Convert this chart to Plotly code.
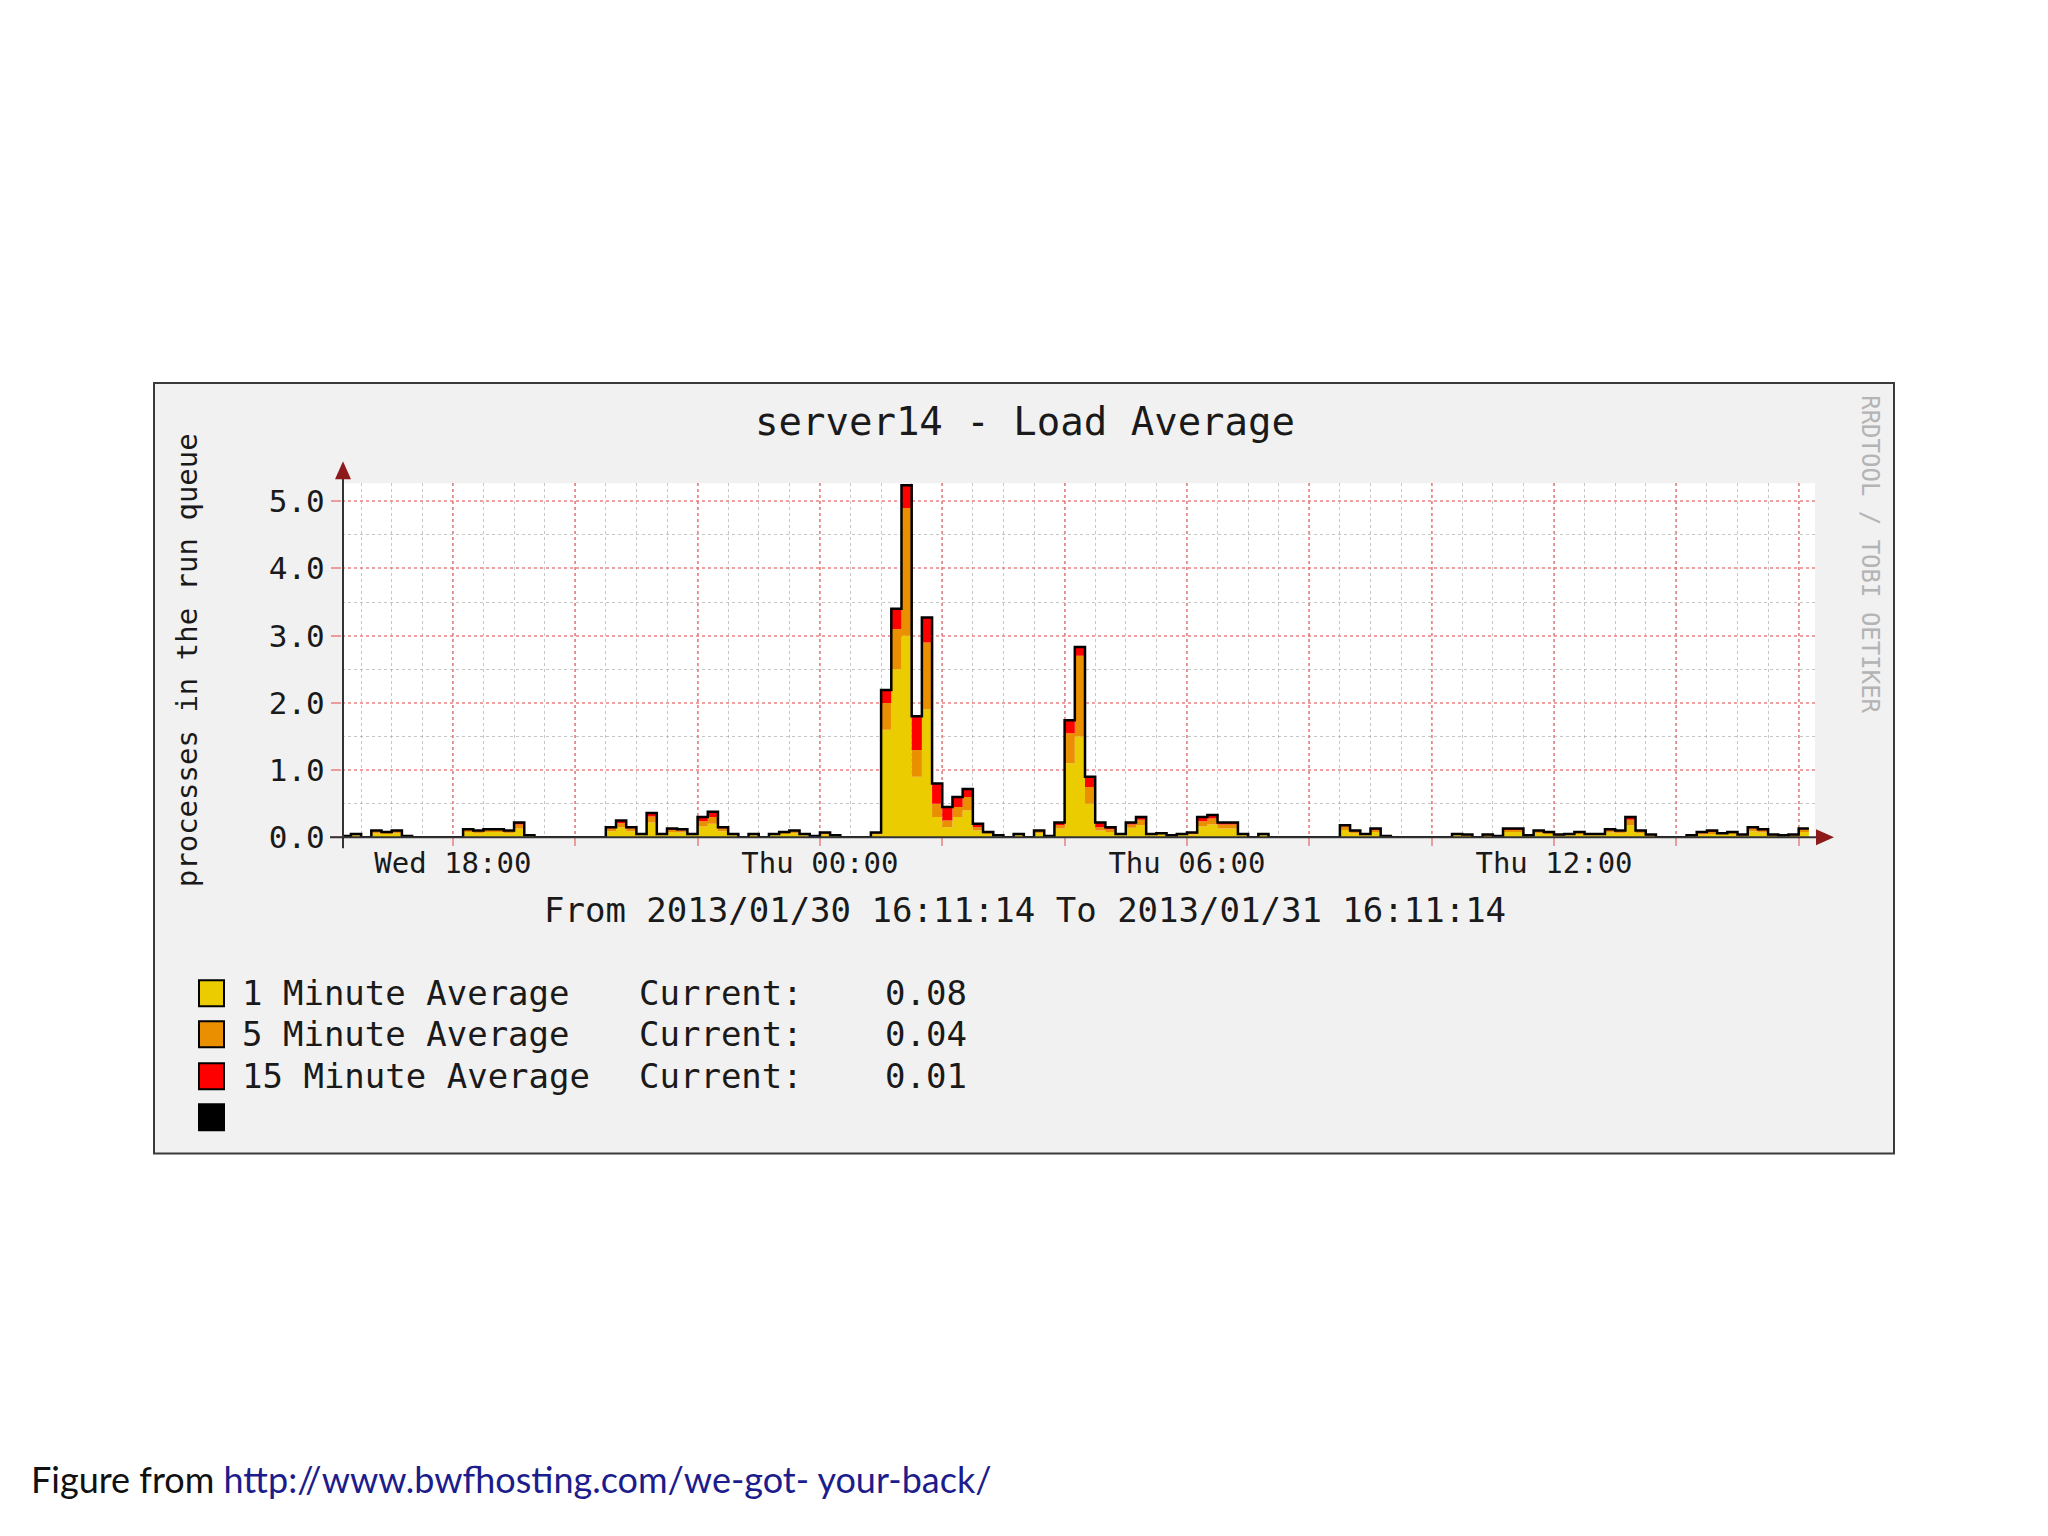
import numpy as np
import pandas as pd
import plotly.graph_objects as go

# ---------------- data (10-minute samples, 16:10 Wed -> 16:10 Thu) ----------------
times = pd.date_range("2013-01-30 16:10", "2013-01-31 16:10", freq="10min")

load_1min = [
    0.01, 0.03, 0, 0.06, 0.05, 0.06, 0.01, 0, 0, 0,
    0, 0, 0.08, 0.06, 0.08, 0.08, 0.06, 0.13, 0.02, 0,
    0, 0, 0, 0, 0, 0, 0.09, 0.15, 0.09, 0.03,
    0.22, 0.03, 0.08, 0.07, 0.03, 0.16, 0.20, 0.09, 0.03, 0,
    0.03, 0, 0.03, 0.05, 0.06, 0.03, 0.01, 0.04, 0.02, 0,
    0, 0, 0.04, 1.60, 2.50, 3.00, 0.90, 1.90, 0.30, 0.15,
    0.30, 0.40, 0.10, 0.05, 0.02, 0, 0.03, 0, 0.06, 0.01,
    0.13, 1.10, 1.50, 0.50, 0.10, 0.08, 0.03, 0.14, 0.18, 0.03,
    0.04, 0.02, 0.03, 0.04, 0.16, 0.19, 0.13, 0.13, 0.03, 0,
    0.03, 0, 0, 0, 0, 0, 0, 0, 0.11, 0.06,
    0.03, 0.08, 0.01, 0, 0, 0, 0, 0, 0, 0.03,
    0.02, 0, 0.02, 0.01, 0.08, 0.08, 0.02, 0.06, 0.05, 0.02,
    0.03, 0.05, 0.03, 0.03, 0.07, 0.06, 0.18, 0.06, 0.02, 0,
    0, 0, 0, 0.04, 0.05, 0.04, 0.05, 0.02, 0.09, 0.07,
    0.02, 0.02, 0.02, 0.08, 0.08,
]
load_5min = [
    0.01, 0.01, 0, 0.03, 0.02, 0.03, 0.01, 0, 0, 0,
    0, 0, 0.03, 0.03, 0.03, 0.03, 0.03, 0.06, 0.01, 0,
    0, 0, 0, 0, 0, 0, 0.04, 0.06, 0.04, 0.01,
    0.09, 0.01, 0.03, 0.03, 0.01, 0.08, 0.10, 0.04, 0.01, 0,
    0.01, 0, 0.01, 0.02, 0.03, 0.01, 0.01, 0.02, 0.01, 0,
    0, 0, 0.02, 0.40, 0.60, 1.90, 0.40, 1.00, 0.20, 0.10,
    0.15, 0.20, 0.05, 0.02, 0.01, 0, 0.01, 0, 0.03, 0.01,
    0.05, 0.45, 1.20, 0.25, 0.05, 0.04, 0.01, 0.05, 0.08, 0.01,
    0.01, 0.01, 0.01, 0.02, 0.08, 0.09, 0.06, 0.06, 0.01, 0,
    0.01, 0, 0, 0, 0, 0, 0, 0, 0.05, 0.03,
    0.01, 0.03, 0.01, 0, 0, 0, 0, 0, 0, 0.01,
    0.01, 0, 0.01, 0.01, 0.03, 0.03, 0.01, 0.03, 0.02, 0.01,
    0.01, 0.02, 0.01, 0.01, 0.03, 0.03, 0.08, 0.03, 0.01, 0,
    0, 0, 0.03, 0.02, 0.03, 0.01, 0.02, 0.01, 0.04, 0.03,
    0.01, 0.01, 0.01, 0.04, 0.04,
]
load_15min = [
    0, 0.01, 0, 0.01, 0.01, 0.01, 0, 0, 0, 0,
    0, 0, 0.01, 0.01, 0.01, 0.01, 0.01, 0.03, 0, 0,
    0, 0, 0, 0, 0, 0, 0.02, 0.04, 0.02, 0.01,
    0.05, 0.01, 0.02, 0.02, 0.01, 0.06, 0.08, 0.02, 0.01, 0,
    0.01, 0, 0.01, 0.01, 0.01, 0.01, 0, 0.01, 0, 0,
    0, 0, 0.01, 0.19, 0.30, 0.34, 0.50, 0.37, 0.30, 0.20,
    0.15, 0.12, 0.05, 0.01, 0, 0, 0.01, 0, 0.01, 0,
    0.04, 0.19, 0.13, 0.15, 0.07, 0.03, 0.01, 0.03, 0.04, 0.01,
    0.01, 0, 0.01, 0.01, 0.06, 0.05, 0.03, 0.03, 0.01, 0,
    0.01, 0, 0, 0, 0, 0, 0, 0, 0.02, 0.01,
    0.01, 0.02, 0, 0, 0, 0, 0, 0, 0, 0.01,
    0.01, 0, 0.01, 0, 0.02, 0.02, 0, 0.01, 0.01, 0.01,
    0.01, 0.01, 0.01, 0.01, 0.02, 0.01, 0.04, 0.01, 0.01, 0,
    0, 0, 0, 0.02, 0.02, 0.01, 0.01, 0.01, 0.02, 0.02,
    0.01, 0, 0.01, 0.01, 0.01,
]

series_names = ["1 Minute Average", "5 Minute Average", "15 Minute Average"]
series_colors = ["#EACC00", "#EA8F00", "#FF0000"]
current_values = ["0.08", "0.04", "0.01"]

title_text = "server14 - Load Average"
y_title = "processes in the run queue"
range_text = "From 2013/01/30 16:11:14 To 2013/01/31 16:11:14"
watermark = "RRDTOOL / TOBI OETIKER"

# ---------------- helpers (page has an 8px body margin) ----------------
W, H = 2032, 1520
OFF = 8
H_EFF = 1501.5   # rendered paper height observed in the screenshot
def px(x):
    return (x - OFF) / W
def py(y):
    return 1 - (y - OFF) / H_EFF

MONO = "DejaVu Sans Mono"
MAJOR = "rgba(230,110,110,0.65)"
MINOR = "rgba(160,160,160,0.6)"

total = np.array(load_1min) + np.array(load_5min) + np.array(load_15min)

fig = go.Figure()
for name, vals, col in zip(series_names, [load_1min, load_5min, load_15min], series_colors):
    fig.add_trace(go.Scatter(
        x=times, y=vals, name=name, stackgroup="load", mode="lines",
        line=dict(width=0, shape="hv", color=col), fillcolor=col,
        showlegend=False, hoverinfo="skip"))
fig.add_trace(go.Scatter(
    x=times, y=total, name="Total", mode="lines",
    line=dict(color="#000000", width=2.5, shape="hv"), showlegend=False))

tick_times = pd.date_range("2013-01-30 18:00", "2013-01-31 16:00", freq="2h")
tick_text = [t.strftime("%a %H:%M") if t.hour % 6 == 0 else "" for t in tick_times]

fig.update_xaxes(
    type="date",
    range=["2013-01-30 16:11:14", "2013-01-31 16:16:00"],
    domain=[px(342), px(1815)],
    tickmode="array", tickvals=tick_times, ticktext=tick_text,
    tickfont=dict(family=MONO, size=29, color="#1a1a1a"),
    ticklabelstandoff=-8,
    showgrid=True, gridcolor=MAJOR, griddash="dot", gridwidth=1.5,
    ticks="outside", ticklen=8, tickcolor=MAJOR, tickwidth=2,
    minor=dict(tick0="2013-01-30 16:30", dtick=1800000, showgrid=True,
               gridcolor=MINOR, griddash="dot", gridwidth=1.2, ticks=""),
    showline=False, zeroline=False, fixedrange=True,
)
fig.update_yaxes(
    range=[0, 5.27],
    domain=[py(837), py(483)],
    tickmode="linear", tick0=0, dtick=1, tickformat=".1f",
    tickfont=dict(family=MONO, size=31, color="#1a1a1a"),
    showgrid=True, gridcolor=MAJOR, griddash="dot", gridwidth=1.5,
    ticks="outside", ticklen=10, tickcolor=MAJOR, tickwidth=2,
    minor=dict(dtick=0.5, showgrid=True, gridcolor=MINOR, griddash="dot",
               gridwidth=1.2, ticks=""),
    showline=False, zeroline=False, fixedrange=True,
)

shapes = [
    # chart canvas
    dict(type="rect", xref="paper", yref="paper", layer="below",
         x0=px(154), x1=px(1894), y0=py(1153), y1=py(383),
         fillcolor="#f2f1f1", line=dict(color="#3a3a3a", width=2)),
    # plot area
    dict(type="rect", xref="paper", yref="paper", layer="below",
         x0=px(343), x1=px(1815), y0=py(837), y1=py(483),
         fillcolor="#ffffff", line=dict(width=0)),
    # axis lines
    dict(type="line", xref="paper", yref="paper", x0=px(343), x1=px(343),
         y0=py(848), y1=py(472), line=dict(color="#333333", width=2)),
    dict(type="line", xref="paper", yref="paper", x0=px(330), x1=px(1822),
         y0=py(837), y1=py(837), line=dict(color="#333333", width=2)),
    # arrow heads
    dict(type="path", xref="paper", yref="paper",
         path=f"M {px(343)} {py(461)} L {px(335)} {py(479)} L {px(351)} {py(479)} Z",
         fillcolor="#8e1b1b", line=dict(width=0)),
    dict(type="path", xref="paper", yref="paper",
         path=f"M {px(1834)} {py(837)} L {px(1816)} {py(829)} L {px(1816)} {py(845)} Z",
         fillcolor="#8e1b1b", line=dict(width=0)),
]

annotations = [
    dict(text=title_text, x=px(1025), y=py(421), xref="paper", yref="paper",
         showarrow=False, xanchor="center", yanchor="middle",
         font=dict(family=MONO, size=39, color="#1a1a1a")),
    dict(text=y_title, x=px(187), y=py(660), xref="paper", yref="paper",
         showarrow=False, textangle=-90, xanchor="center", yanchor="middle",
         font=dict(family=MONO, size=29, color="#1a1a1a")),
    dict(text=watermark, x=px(1870), y=py(554), xref="paper", yref="paper",
         showarrow=False, textangle=90, xanchor="center", yanchor="middle",
         font=dict(family=MONO, size=24, color="#b4b4b4")),
    dict(text=range_text, x=px(1025), y=py(910), xref="paper", yref="paper",
         showarrow=False, xanchor="center", yanchor="middle",
         font=dict(family=MONO, size=34, color="#1a1a1a")),
    dict(text="Figure from <span style='color:#1c1c8c'>http://www.bwfhosting.com/we-got- your-back/</span>",
         x=px(29), y=py(1479), xref="paper", yref="paper",
         showarrow=False, xanchor="left", yanchor="middle",
         font=dict(family="Lato", size=36, color="#111111")),
]

row_y = [993, 1034, 1076, 1117]
legend_colors = series_colors + ["#000000"]
for i, cy in enumerate(row_y):
    shapes.append(dict(type="rect", xref="paper", yref="paper",
                       x0=px(199), x1=px(224), y0=py(cy + 13), y1=py(cy - 13),
                       fillcolor=legend_colors[i], line=dict(color="#000000", width=2)))
for name, val, cy in zip(series_names, current_values, row_y):
    annotations.append(dict(text=name, x=px(240), y=py(cy), xref="paper", yref="paper",
                            showarrow=False, xanchor="left", yanchor="middle",
                            font=dict(family=MONO, size=34, color="#1a1a1a")))
    annotations.append(dict(text="Current:", x=px(637), y=py(cy), xref="paper", yref="paper",
                            showarrow=False, xanchor="left", yanchor="middle",
                            font=dict(family=MONO, size=34, color="#1a1a1a")))
    annotations.append(dict(text=val, x=px(883), y=py(cy), xref="paper", yref="paper",
                            showarrow=False, xanchor="left", yanchor="middle",
                            font=dict(family=MONO, size=34, color="#1a1a1a")))

fig.update_layout(
    width=W, height=H, autosize=False,
    margin=dict(l=0, r=0, t=0, b=0),
    paper_bgcolor="#ffffff", plot_bgcolor="rgba(0,0,0,0)",
    shapes=shapes, annotations=annotations, showlegend=False,
)

fig.write_html("out.html")
